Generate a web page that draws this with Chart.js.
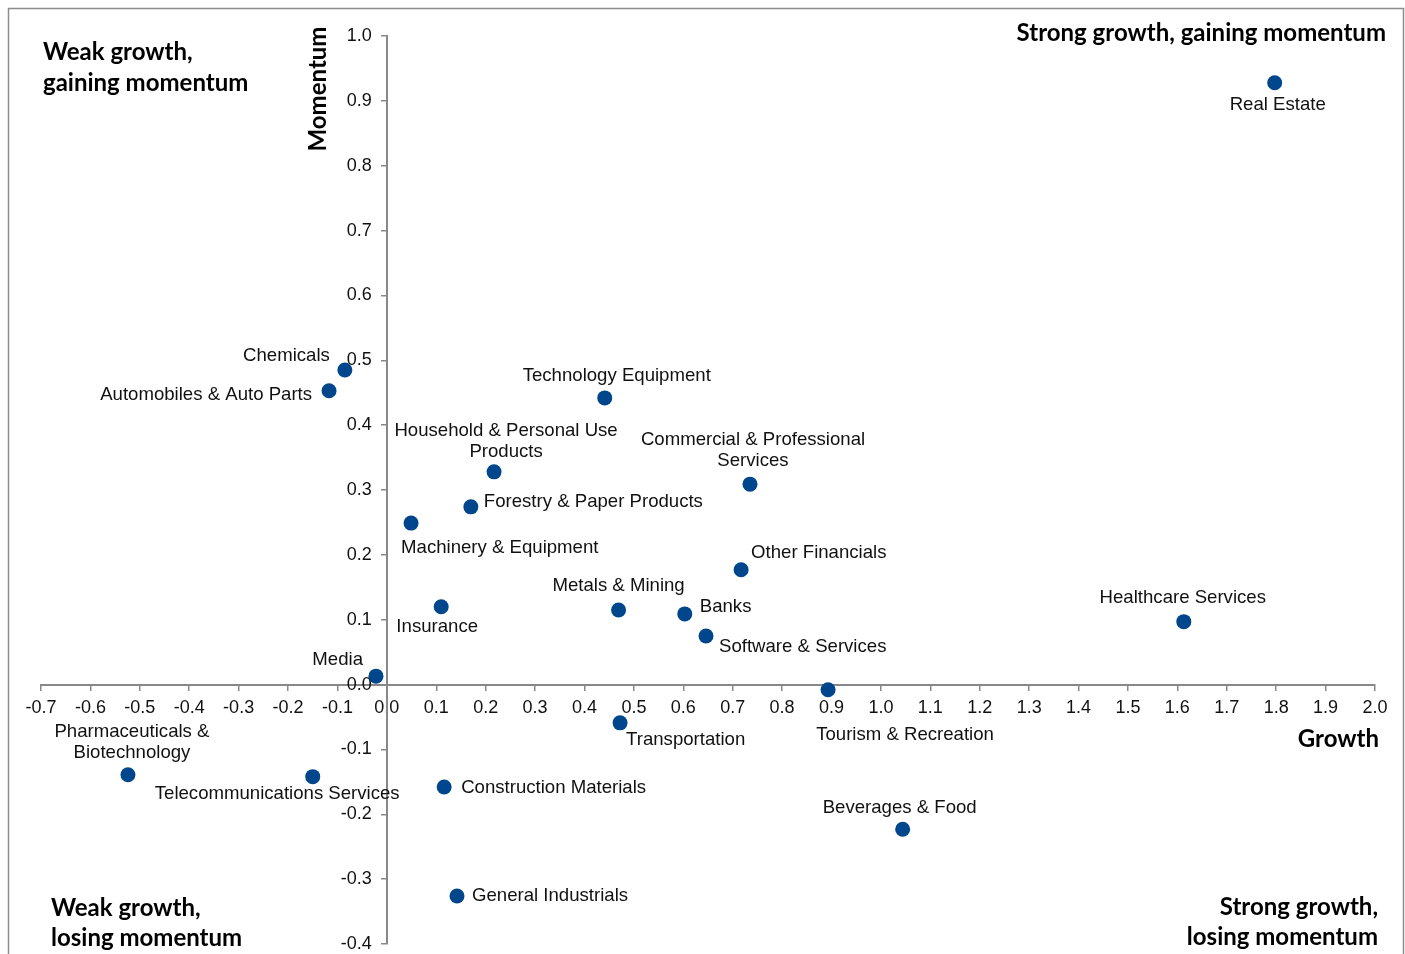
<!DOCTYPE html>
<html>
<head>
<meta charset="utf-8">
<script src="https://cdn.jsdelivr.net/npm/chart.js@4.4.1/dist/chart.umd.min.js"></script>
<style>
  html, body { margin: 0; padding: 0; background: #ffffff; overflow: hidden; }
  #c { display: block; }
</style>
</head>
<body>
<canvas id="c" width="1405" height="954"></canvas>
<script>
// Sector names (line breaks where the label wraps)
const sectors = [
  "Real Estate",
  "Chemicals",
  "Automobiles & Auto Parts",
  "Technology Equipment",
  "Household & Personal Use\nProducts",
  "Commercial & Professional\nServices",
  "Forestry & Paper Products",
  "Machinery & Equipment",
  "Other Financials",
  "Metals & Mining",
  "Banks",
  "Insurance",
  "Software & Services",
  "Healthcare Services",
  "Media",
  "Tourism & Recreation",
  "Transportation",
  "Pharmaceuticals &\nBiotechnology",
  "Telecommunications Services",
  "Construction Materials",
  "Beverages & Food",
  "General Industrials"
];

// Growth (x) per sector
const growth = [
  1.797, -0.085, -0.117, 0.441, 0.217, 0.735, 0.170, 0.049, 0.717, 0.469, 0.603,
  0.110, 0.646, 1.613, -0.022, 0.893, 0.472, -0.524, -0.150, 0.116, 1.044, 0.142
];

// Momentum (y) per sector
const momentum = [
  0.928, 0.485, 0.453, 0.442, 0.328, 0.309, 0.274, 0.249, 0.177, 0.115, 0.109,
  0.120, 0.075, 0.097, 0.013, -0.008, -0.059, -0.139, -0.142, -0.158, -0.223, -0.326
];

// Axis ranges and tick step
const growthRange = [-0.7, 2.0];
const momentumRange = [-0.4, 1.0];
const tickStep = 0.1;

// Quadrant captions
const quadrants = {
  topLeft: ["Weak growth,", "gaining momentum"],
  topRight: ["Strong growth, gaining momentum"],
  bottomLeft: ["Weak growth,", "losing momentum"],
  bottomRight: ["Strong growth,", "losing momentum"]
};
const axisTitles = { x: "Growth", y: "Momentum" };

// Label placement relative to each point: [dx, dy, align]
const labelPlacement = [
  [3, 22, "center"], [-15, -14, "right"], [-17, 4, "right"], [12, -22, "center"],
  [12, -41, "center"], [3, -44, "center"], [13, -5, "left"], [-10, 25, "left"],
  [10, -17, "left"], [0, -24, "center"], [15, -7, "left"], [-4, 20, "center"],
  [13, 11, "left"], [-1, -24, "center"], [-13, -16, "right"], [77, 45, "center"],
  [6, 17, "left"], [4, -43, "center"], [-158, 17, "left"], [17, 1, "left"],
  [-3, -21, "center"], [15, 0, "left"]
];

const AXIS_GREY = "#888888";
const DOT_BLUE = "#00468C";
const LABEL_FONT = "18.6px 'Liberation Sans', Arial, sans-serif";
const BOLD_FONT = "bold 24px Lato, 'Open Sans', sans-serif";

const points = growth.map((g, i) => ({ x: g, y: momentum[i] }));

function fmt(v) {
  if (Math.abs(v) < 1e-9) return "0.0";
  return v.toFixed(1);
}

// Outer frame around the whole chart
const framePlugin = {
  id: "frame",
  beforeDraw(chart) {
    const ctx = chart.ctx;
    ctx.save();
    ctx.fillStyle = "#ffffff";
    ctx.fillRect(0, 0, chart.width, chart.height);
    ctx.strokeStyle = "#8c8c8c";
    ctx.lineWidth = 1.5;
    ctx.strokeRect(8.5, 8.5, chart.width - 10, chart.height + 20);
    ctx.restore();
  }
};

// Sector names next to their points
const pointLabelPlugin = {
  id: "pointLabels",
  afterDatasetsDraw(chart) {
    const ctx = chart.ctx;
    const meta = chart.getDatasetMeta(0);
    ctx.save();
    ctx.font = LABEL_FONT;
    ctx.fillStyle = "#111111";
    ctx.textBaseline = "middle";
    meta.data.forEach((el, i) => {
      const [dx, dy, align] = labelPlacement[i];
      ctx.textAlign = align;
      sectors[i].split("\n").forEach((line, k) => {
        ctx.fillText(line, el.x + dx, el.y + dy + k * 21);
      });
    });
    ctx.restore();
  }
};

// Quadrant captions and axis titles
const captionPlugin = {
  id: "captions",
  afterDraw(chart) {
    const ctx = chart.ctx;
    ctx.save();
    ctx.font = BOLD_FONT;
    ctx.fillStyle = "#000000";
    ctx.textBaseline = "middle";

    ctx.textAlign = "left";
    quadrants.topLeft.forEach((t, k) => ctx.fillText(t, 43, 52 + k * 31));
    quadrants.bottomLeft.forEach((t, k) => ctx.fillText(t, 51, 908 + k * 30));

    ctx.textAlign = "right";
    quadrants.topRight.forEach((t, k) => ctx.fillText(t, 1386, 33 + k * 31));
    quadrants.bottomRight.forEach((t, k) => ctx.fillText(t, 1378, 907 + k * 30));
    ctx.fillText(axisTitles.x, 1379, 739);

    ctx.translate(318, 89);
    ctx.rotate(-Math.PI / 2);
    ctx.textAlign = "center";
    ctx.fillText(axisTitles.y, 0, 0);
    ctx.restore();
  }
};

const axisCommon = {
  type: "linear",
  grid: {
    display: true,
    drawOnChartArea: false,
    drawTicks: true,
    tickLength: 5,
    color: AXIS_GREY,
    lineWidth: 1.5
  },
  border: { display: true, color: AXIS_GREY, width: 2 },
  ticks: {
    stepSize: tickStep,
    color: "#111111",
    font: { family: "'Liberation Sans', Arial, sans-serif", size: 18 },
    callback: (v) => fmt(v)
  }
};

new Chart(document.getElementById("c"), {
  type: "scatter",
  data: {
    datasets: [{
      data: points,
      backgroundColor: DOT_BLUE,
      borderColor: DOT_BLUE,
      pointRadius: 7.5,
      pointHoverRadius: 7.5,
      borderWidth: 0
    }]
  },
  options: {
    responsive: false,
    animation: false,
    events: [],
    layout: { padding: { left: 41, right: 30, top: 36, bottom: 10 } },
    plugins: {
      legend: { display: false },
      tooltip: { enabled: false }
    },
    scales: {
      x: Object.assign({}, axisCommon, {
        min: growthRange[0],
        max: growthRange[1],
        position: { y: 0 },
        ticks: Object.assign({}, axisCommon.ticks, { padding: 8, maxRotation: 0, autoSkip: false })
      }),
      y: Object.assign({}, axisCommon, {
        min: momentumRange[0],
        max: momentumRange[1],
        position: { x: 0 },
        ticks: Object.assign({}, axisCommon.ticks, {
          autoSkip: false,
          // compact line height so the end labels may overhang the plot edge
          font: { family: "'Liberation Sans', Arial, sans-serif", size: 18, lineHeight: 0.5 },
          // trailing gap keeps the value clear of the tick mark
          callback: (v) => fmt(v) + "   "
        })
      })
    }
  },
  plugins: [framePlugin, pointLabelPlugin, captionPlugin]
});
</script>
</body>
</html>
